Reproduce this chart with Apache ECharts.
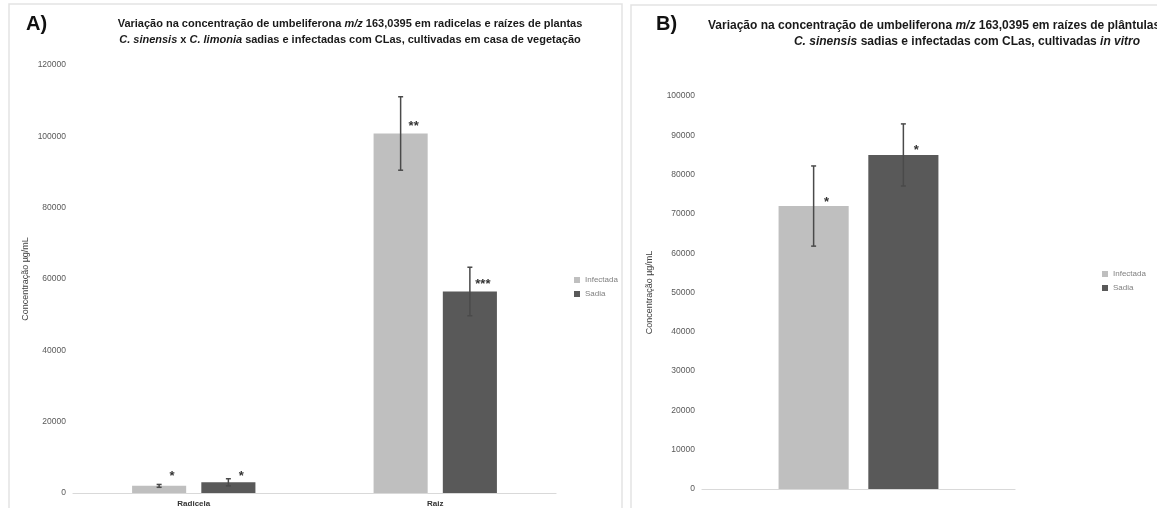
<!DOCTYPE html>
<html>
<head>
<meta charset="utf-8">
<script src="https://cdn.jsdelivr.net/npm/echarts@6/dist/echarts.min.js"></script>
<style>
html,body{margin:0;padding:0;background:#fff;}
#c{width:1157px;height:508px;}
</style>
</head>
<body>
<div id="c"></div>
<script>
// ---------- data ----------
const categoriesA = ['Radicela', 'Raiz'];
const categoriesB = [''];
const seriesNames = ['Infectada', 'Sadia'];

const infectadaA = [2000, 100800];
const sadiaA = [3000, 56500];
const infectadaErrA = [400, 10300];
const sadiaErrA = [1000, 6800];

const infectadaB = [72000];
const sadiaB = [85000];
const infectadaErrB = [10200];
const sadiaErrB = [7900];

// significance marks: [categoryIndex, yValue, seriesPosition]
const starsA = [[0, 5600, 0], [0, 5600, 1], [1, 103500, 0], [1, 59200, 1]];
const starsTextA = ['*', '*', '**', '***'];
const starsB = [[0, 73700, 0], [0, 87000, 1]];
const starsTextB = ['*', '*'];

const yTicksA = {min: 0, max: 120000, interval: 20000};
const yTicksB = {min: 0, max: 100000, interval: 10000};

// ---------- helpers ----------
const FONT = 'Liberation Sans, Arial, sans-serif';
const BAR_W = 0.224, BAR_GAP = 0.28;
function barOffset(api, pos) {
  const band = api.size([1, 0])[0];
  const bw = band * BAR_W;
  return (pos === 0 ? -1 : 1) * bw * (1 + BAR_GAP) / 2;
}
function errData(vals, errs, pos) {
  return vals.map((v, i) => [i, v, errs[i], pos]);
}
function errRender(params, api) {
  const c = api.value(0), v = api.value(1), e = api.value(2), pos = api.value(3);
  const off = barOffset(api, pos);
  const t = api.coord([c, v + e]);
  const b = api.coord([c, v - e]);
  const x = t[0] + off;
  const st = {stroke: '#4a4a4a', lineWidth: 1.5};
  return {type: 'group', children: [
    {type: 'line', shape: {x1: x, y1: t[1], x2: x, y2: b[1]}, style: st},
    {type: 'line', shape: {x1: x - 2.5, y1: t[1], x2: x + 2.5, y2: t[1]}, style: st},
    {type: 'line', shape: {x1: x - 2.5, y1: b[1], x2: x + 2.5, y2: b[1]}, style: st}
  ]};
}
function starRender(texts) {
  return function (params, api) {
    const c = api.value(0), y = api.value(1), pos = api.value(2);
    const off = barOffset(api, pos);
    const p = api.coord([c, y]);
    return {type: 'text', x: p[0] + off + 13, y: p[1] + 3,
      style: {text: texts[params.dataIndex], fill: '#333', font: 'bold 13px Liberation Sans, sans-serif',
        align: 'center', verticalAlign: 'middle'}};
  };
}
function richStyle(size) {
  return {
    b: {fontFamily: FONT, fontWeight: 'bold', fontSize: size, color: '#1a1a1a'},
    i: {fontFamily: FONT, fontWeight: 'bold', fontStyle: 'italic', fontSize: size, color: '#1a1a1a'}
  };
}
function yAxis(grid, ticks) {
  return {
    type: 'value', gridIndex: grid, min: ticks.min, max: ticks.max, interval: ticks.interval,
    name: 'Concentração µg/mL', nameLocation: 'middle', nameGap: grid === 0 ? 43 : 48,
    nameTextStyle: {fontFamily: FONT, fontSize: 9, color: '#404040'},
    axisLine: {show: false}, axisTick: {show: false}, splitLine: {show: false},
    axisLabel: {fontFamily: FONT, fontSize: 8.5, color: '#595959', margin: 7, formatter: v => String(v)}
  };
}
function xAxis(grid, cats) {
  return {
    type: 'category', gridIndex: grid, data: cats,
    axisLine: {lineStyle: {color: '#d9d9d9', width: 1.2}}, axisTick: {show: false},
    axisLabel: {fontFamily: FONT, fontSize: 8, fontWeight: 'bold', color: '#333', margin: 7}
  };
}
function bar(name, grid, data, color) {
  return {
    name: name, type: 'bar', xAxisIndex: grid, yAxisIndex: grid, data: data,
    barWidth: (BAR_W * 100) + '%', barGap: (BAR_GAP * 100) + '%',
    itemStyle: {color: color}, silent: true
  };
}

const chart = echarts.init(document.getElementById('c'), null, {renderer: 'canvas'});
chart.setOption({
  animation: false,
  backgroundColor: '#fff',
  title: [
    {text: '{b|Variação na concentração de umbeliferona }{i|m/z}{b| 163,0395 em radicelas e raízes de plantas}',
     left: 345, top: 13, textAlign: 'center', textStyle: {rich: richStyle(11)}},
    {text: '{i|C. sinensis}{b| x }{i|C. limonia}{b| sadias e infectadas com CLas, cultivadas em casa de vegetação}',
     left: 345, top: 29, textAlign: 'center', textStyle: {rich: richStyle(11)}},
    {text: '{b|Variação na concentração de umbeliferona }{i|m/z}{b| 163,0395 em raízes de plântulas}',
     left: 703, top: 15, textStyle: {rich: richStyle(12)}},
    {text: '{i|C. sinensis}{b| sadias e infectadas com CLas, cultivadas }{i|in vitro}',
     left: 962, top: 31, textAlign: 'center', textStyle: {rich: richStyle(12)}},
    {text: 'A)', left: 21, top: 9, textStyle: {fontFamily: FONT, fontWeight: 'bold', fontSize: 20, color: '#111'}},
    {text: 'B)', left: 651, top: 9, textStyle: {fontFamily: FONT, fontWeight: 'bold', fontSize: 20, color: '#111'}}
  ],
  graphic: [
    {type: 'rect', shape: {x: 9, y: 4, width: 613, height: 520}, style: {fill: 'none', stroke: '#e3e3e3', lineWidth: 1.5}, silent: true},
    {type: 'rect', shape: {x: 631, y: 5, width: 560, height: 520}, style: {fill: 'none', stroke: '#e3e3e3', lineWidth: 1.5}, silent: true}
  ],
  legend: [
    {data: seriesNames, orient: 'vertical', left: 569, top: 271, itemWidth: 6, itemHeight: 6, itemGap: 6, icon: 'rect',
     textStyle: {fontFamily: FONT, fontSize: 8, color: '#808080'}, selectedMode: false},
    {data: seriesNames, orient: 'vertical', left: 1097, top: 265, itemWidth: 6, itemHeight: 6, itemGap: 6, icon: 'rect',
     textStyle: {fontFamily: FONT, fontSize: 8, color: '#808080'}, selectedMode: false}
  ],
  grid: [
    {left: 73, right: 1157 - 556, top: 65, bottom: 508 - 493},
    {left: 702, right: 1157 - 1015, top: 96, bottom: 508 - 489}
  ],
  xAxis: [xAxis(0, categoriesA), xAxis(1, categoriesB)],
  yAxis: [yAxis(0, yTicksA), yAxis(1, yTicksB)],
  series: [
    bar('Infectada', 0, infectadaA, '#bfbfbf'),
    bar('Sadia', 0, sadiaA, '#595959'),
    bar('Infectada', 1, infectadaB, '#bfbfbf'),
    bar('Sadia', 1, sadiaB, '#595959'),
    {type: 'custom', xAxisIndex: 0, yAxisIndex: 0, renderItem: errRender, data: errData(infectadaA, infectadaErrA, 0), silent: true, z: 5},
    {type: 'custom', xAxisIndex: 0, yAxisIndex: 0, renderItem: errRender, data: errData(sadiaA, sadiaErrA, 1), silent: true, z: 5},
    {type: 'custom', xAxisIndex: 1, yAxisIndex: 1, renderItem: errRender, data: errData(infectadaB, infectadaErrB, 0), silent: true, z: 5},
    {type: 'custom', xAxisIndex: 1, yAxisIndex: 1, renderItem: errRender, data: errData(sadiaB, sadiaErrB, 1), silent: true, z: 5},
    {type: 'custom', xAxisIndex: 0, yAxisIndex: 0, renderItem: starRender(starsTextA), data: starsA, silent: true, z: 6},
    {type: 'custom', xAxisIndex: 1, yAxisIndex: 1, renderItem: starRender(starsTextB), data: starsB, silent: true, z: 6}
  ]
});
</script>
</body>
</html>
